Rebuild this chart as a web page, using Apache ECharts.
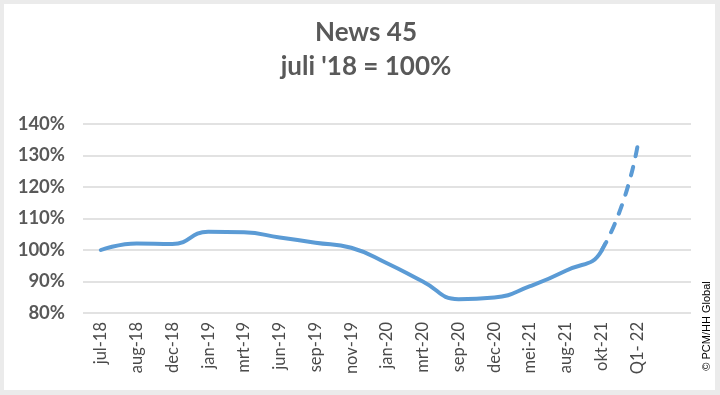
<!DOCTYPE html>
<html><head><meta charset="utf-8">
<script src="https://cdn.jsdelivr.net/npm/echarts@6/dist/echarts.min.js"></script>
<style>
html,body{margin:0;padding:0;background:#ebebeb;}
#bg{position:absolute;left:4px;top:4px;width:711px;height:386px;background:#fff;}
#c{position:absolute;left:0;top:0;width:720px;height:395px;}
</style></head><body>
<div id="bg"></div><div id="c"></div>
<script>
const categories = ['jul-18','aug-18','dec-18','jan-19','mrt-19','jun-19','sep-19','nov-19','jan-20','mrt-20','sep-20','dec-20','mei-21','aug-21','okt-21','Q1- 22'];
const values = [100, 102.1, 101.9, 105.8, 105.6, 104.0, 102.3, 100.7, 95.8, 90.0, 84.4, 84.9, 88.5, 93.4, 99.8, 132.7];
const yTicks = [80, 90, 100, 110, 120, 130, 140];
const titleLines = ['News 45', "juli '18 = 100%"];
const credit = '\u00a9 PCM/HH Global';
const solidEnd = 14;   // index of last solid point (okt-21)

const chart = echarts.init(document.getElementById('c'), null, {renderer: 'canvas'});
const gLeft = 83, gTop = 124, gW = 608, gH = 189;
const nBands = categories.length + 1;
const band = gW / nBands;
const w1 = band * (solidEnd + 0.5);
const w2 = gW - w1;
const pts = values.map((v, i) => [i, v]);
const yBase = {type: 'value', min: yTicks[0], max: yTicks[yTicks.length - 1], interval: 10};
const txt = '#595959';

chart.setOption({
  backgroundColor: 'transparent',
  animation: false,
  grid: [
    {left: gLeft, top: gTop, width: gW, height: gH},
    {left: gLeft, top: gTop, width: w1, height: gH},
    {left: gLeft + w1, top: gTop, width: w2, height: gH}
  ],
  xAxis: [
    {type: 'category', gridIndex: 0, data: categories.concat(['']), boundaryGap: true,
     axisLine: {show: false}, axisTick: {show: false},
     axisLabel: {rotate: 90, interval: 0, margin: 9, color: '#4a4a4a', fontSize: 16.5, fontFamily: 'Lato'}},
    {type: 'value', gridIndex: 1, min: -0.5, max: solidEnd, show: false},
    {type: 'value', gridIndex: 2, min: solidEnd, max: categories.length + 0.5, show: false}
  ],
  yAxis: [
    Object.assign({gridIndex: 0,
      axisLine: {show: false}, axisTick: {show: false},
      splitLine: {lineStyle: {color: '#d9d9d9', width: 1.5}},
      axisLabel: {formatter: '{value}%', margin: 18, color: txt, fontSize: 18.5, fontWeight: 'bold', fontFamily: 'Lato'}}, yBase),
    Object.assign({gridIndex: 1, show: false}, yBase),
    Object.assign({gridIndex: 2, show: false}, yBase)
  ],
  series: [
    {type: 'line', xAxisIndex: 1, yAxisIndex: 1, data: pts, smooth: 0.5, showSymbol: false,
     lineStyle: {color: '#5b9bd5', width: 4, cap: 'round', join: 'round'}},
    {type: 'line', xAxisIndex: 2, yAxisIndex: 2, data: pts.slice(solidEnd - 1), smooth: 0.5, showSymbol: false,
     lineStyle: {color: '#5b9bd5', width: 4, type: [9, 11], dashOffset: 17, cap: 'round'}}
  ],
  graphic: [
    {type: 'text', x: 366, y: 33, style: {text: titleLines[0], align: 'center', verticalAlign: 'middle',
      font: 'bold 26px Lato', fill: txt}},
    {type: 'text', x: 366, y: 67, style: {text: titleLines[1], align: 'center', verticalAlign: 'middle',
      font: 'bold 26px Lato', fill: txt}},
    {type: 'text', x: 707, y: 326, rotation: Math.PI / 2, style: {text: credit, align: 'center', verticalAlign: 'middle',
      font: '11px "Liberation Sans"', fill: '#000'}}
  ]
});
</script>
</body></html>
